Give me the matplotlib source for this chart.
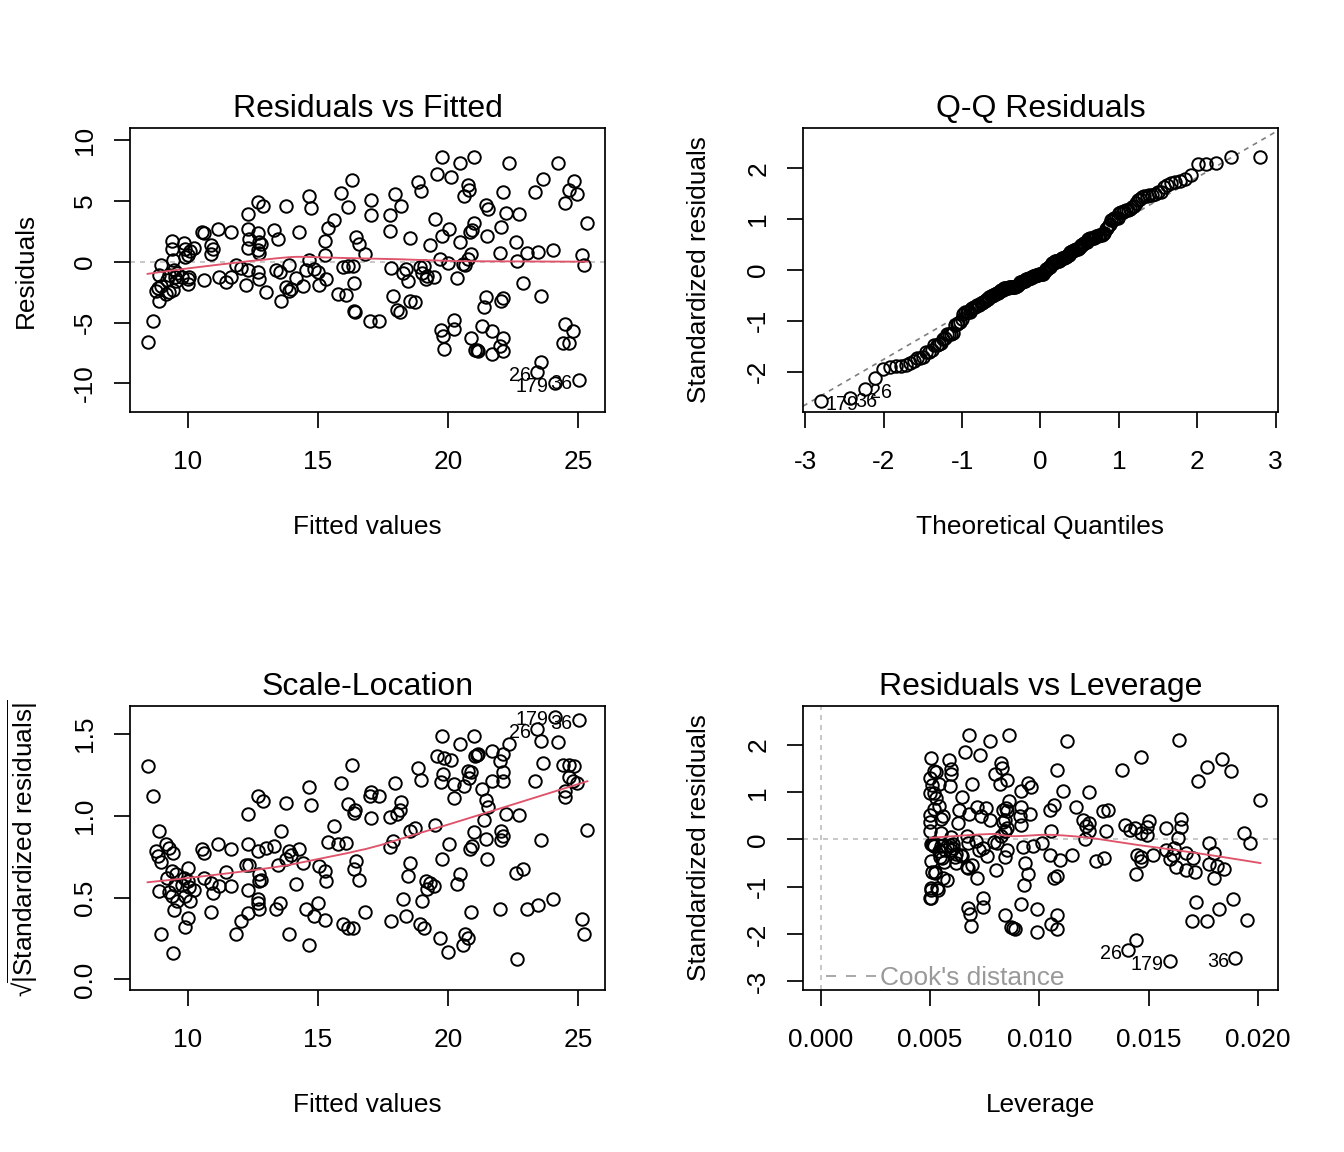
import numpy as np
import matplotlib
matplotlib.use('Agg')
from matplotlib import pyplot as plt
from matplotlib.lines import Line2D
from statistics import NormalDist

# fitted values and residuals of the lm fit
# (observation order matters only for the id labels: 26, 36 and 179)
fitted = np.array([
    8.46, 8.65, 8.91, 8.77, 8.87, 8.97, 9.17, 9.30, 9.45, 8.91,
    8.97, 9.42, 9.38, 9.38, 9.49, 9.50, 9.55, 9.87, 9.90, 9.90,
    10.00, 10.26, 9.80, 10.00, 10.06, 23.44, 10.00, 10.62, 10.55, 10.64,
    10.90, 10.96, 10.90, 11.15, 11.67, 25.03, 11.22, 11.47, 11.67, 11.86,
    12.30, 12.25, 12.33, 12.33, 12.33, 12.05, 9.30, 9.60, 9.20, 10.10,
    19.00, 12.69, 12.88, 12.69, 12.76, 12.82, 12.69, 12.76, 12.37, 12.69,
    12.76, 13.01, 13.78, 13.31, 13.46, 14.29, 13.40, 13.53, 13.91, 14.17,
    13.78, 13.91, 13.97, 13.59, 14.42, 14.68, 14.74, 14.68, 14.55, 14.87,
    15.00, 15.06, 15.32, 15.26, 15.28, 15.38, 15.62, 15.90, 16.30, 16.15,
    15.77, 16.09, 15.96, 16.15, 16.35, 16.38, 16.38, 16.44, 16.47, 16.60,
    16.82, 17.05, 17.05, 16.99, 17.37, 17.95, 18.20, 17.76, 17.76, 18.53,
    17.82, 18.27, 18.46, 18.40, 17.88, 18.05, 18.14, 18.53, 18.74, 18.85,
    18.97, 18.91, 19.10, 19.17, 19.20, 19.46, 19.33, 19.49, 19.77, 19.59,
    20.13, 20.45, 21.00, 20.77, 20.80, 20.62, 19.77, 20.06, 20.45, 19.68,
    20.00, 20.36, 20.58, 20.66, 20.90, 20.77, 20.83, 21.00, 20.93, 21.47,
    21.54, 21.51, 19.72, 19.81, 19.85, 20.23, 20.23, 20.90, 21.05, 21.15,
    21.10, 21.31, 21.69, 21.47, 21.38, 21.69, 22.33, 24.23, 23.65, 23.33,
    24.85, 24.64, 24.97, 24.51, 25.36, 22.12, 22.24, 22.75, 24.10, 22.05,
    22.63, 21.99, 23.05, 23.46, 24.04, 22.67, 25.15, 25.23, 22.88, 23.56,
    22.12, 22.05, 22.12, 21.99, 22.12, 24.49, 24.81, 24.42, 24.64, 23.56,
])
resid = np.array([
    -6.60, -4.87, -3.20, -2.40, -2.20, -2.00, -2.66, -2.50, -2.30, -1.13,
    -0.30, 0.10, 1.00, 1.70, -0.70, -1.30, -1.60, 1.50, 1.00, 0.40,
    0.55, 1.16, -1.30, -1.40, -1.25, -9.07, -1.80, -1.49, 2.46, 2.32,
    1.35, 1.08, 0.66, 2.65, 2.46, -9.70, -1.27, -1.69, -1.27, -0.30,
    -0.65, -1.90, 3.95, 2.66, 1.16, -0.50, -1.10, -0.90, -1.50, 0.90,
    -0.90, 4.90, 4.60, 2.38, 1.63, 1.44, 0.94, 0.72, 1.90, -0.86,
    -1.41, -2.52, 4.54, 2.60, 1.90, 2.46, -0.72, -0.86, -0.30, -1.33,
    -2.10, -2.38, -2.24, -3.20, -1.96, 5.37, 4.40, 0.17, -0.72, -0.58,
    -0.86, -1.88, -1.41, 0.52, 1.72, 2.74, 3.43, 5.64, 6.70, 4.46,
    -2.66, -2.71, -0.44, -0.39, -0.39, -1.77, -4.04, -4.17, 2.05, 1.44,
    0.66, 5.09, 3.80, -4.87, -4.87, 5.59, 4.59, 3.84, 2.55, 1.97,
    -0.50, -0.94, -1.55, -0.58, -2.80, -3.98, -4.17, -3.20, -3.35, 6.53,
    5.78, -0.44, -0.39, -1.41, -1.20, -1.27, 1.35, 3.49, 8.63, 7.24,
    6.97, 8.07, 8.63, 6.33, 5.92, 5.42, 2.10, 2.66, 1.63, 0.25,
    -0.11, -1.33, -0.17, -0.30, 0.66, 0.25, 2.46, 3.15, 2.60, 4.67,
    4.32, 2.10, -5.64, -6.12, -7.14, -4.81, -5.56, -6.25, -7.22, -7.36,
    -7.30, -5.28, -5.70, -2.88, -3.71, -7.58, 8.07, 8.13, 6.80, 5.70,
    6.60, 5.92, 5.59, 4.81, 3.21, 5.70, 3.98, 3.93, -10.00, 2.82,
    1.63, 0.72, 0.72, 0.80, 0.94, 0.06, 0.52, -0.30, -1.77, -2.80,
    -2.99, -3.20, -6.25, -6.95, -7.36, -5.15, -5.70, -6.67, -6.67, -8.24,
])

RED = '#DF536B'
FS = 18.9
plt.rcParams['font.family'] = ['Liberation Sans', 'DejaVu Sans']
plt.rcParams['axes.unicode_minus'] = False
plt.rcParams['mathtext.fontset'] = 'custom'
plt.rcParams['mathtext.rm'] = 'Liberation Sans'
plt.rcParams['mathtext.it'] = 'Liberation Sans:italic'


def lowess(x, y, f=2 / 3, iters=3):
    # same scheme as R's lowess (no delta shortcut)
    o = np.argsort(x, kind='stable')
    x = np.asarray(x, float)[o]
    y = np.asarray(y, float)[o]
    n = len(x)
    ns = max(min(int(f * n + 1e-7), n), 2)
    rw = np.ones(n)
    fit = np.zeros(n)
    for it in range(iters + 1):
        for i in range(n):
            d = np.abs(x - x[i])
            h = np.sort(d)[ns - 1]
            u = d / h
            w = np.where(u < 1, (1 - u ** 3) ** 3, 0.0) * rw
            sw = w.sum()
            xm = (w * x).sum() / sw
            ym = (w * y).sum() / sw
            sxx = (w * (x - xm) ** 2).sum()
            b = (w * (x - xm) * (y - ym)).sum() / sxx if sxx > 1e-12 else 0.0
            fit[i] = ym + b * (x[i] - xm)
        if it < iters:
            res = y - fit
            cm = 6 * np.median(np.abs(res))
            u = res / cm
            rw = np.where(np.abs(u) < 1, (1 - u ** 2) ** 2, 0.0)
    return x, fit


def extend(lo, hi, f):
    d = hi - lo
    return lo - f * d, hi + f * d


# derived diagnostics (simple regression: hat values from the fitted values)
n = len(fitted)
dev = fitted - fitted.mean()
lev = 1 / n + dev ** 2 / (dev ** 2).sum()
sigma = np.sqrt((resid ** 2).sum() / (n - 2))
std_resid = resid / (sigma * np.sqrt(1 - lev))
sqrt_abs = np.sqrt(np.abs(std_resid))
theo = np.array([NormalDist().inv_cdf((i - 0.5) / n) for i in range(1, n + 1)])
qq_x = np.empty(n)
qq_x[np.argsort(std_resid, kind='stable')] = theo


def style(ax, xticks, yticks, xfmt, yfmt, xlabel, ylabel, title, ylabelpad=25.2):
    ax.set_xticks(xticks)
    ax.set_xticklabels([xfmt.format(v) for v in xticks])
    ax.set_yticks(yticks)
    ax.set_yticklabels([yfmt.format(v) for v in yticks], rotation=90, va='center')
    ax.tick_params(axis='both', direction='out', length=11.5, width=1.25, labelsize=FS, color='black')
    ax.tick_params(axis='x', pad=16.1)
    ax.tick_params(axis='y', pad=12.1)
    for s in ax.spines.values():
        s.set_linewidth(1.25)
    ax.set_xlabel(xlabel, fontsize=FS, labelpad=29.1)
    ax.set_ylabel(ylabel, fontsize=FS, labelpad=ylabelpad)
    ax.set_title(title, fontsize=23, pad=7.6)


def pts(ax, x, y):
    ax.plot(x, y, 'o', ms=9.0, mfc='none', mec='black', mew=1.4, ls='none')


def ids(ax, x, y, idx, side):
    for i in idx:
        dx = -4.5 if side == 'left' else 3.5
        ax.annotate(str(i + 1), (x[i], y[i]), xytext=(dx, -2.5), textcoords='offset points',
                    ha='right' if side == 'left' else 'left', va='center', fontsize=14.2)


W, H = 1344, 1152
fig = plt.figure(figsize=(W / 100, H / 100), dpi=100)


def add(left, top):
    return fig.add_axes([left / W, (H - top - 284) / H, 475 / W, 284 / H])


# Residuals vs Fitted
ax = add(130, 128)
ax.axhline(0, color='#BEBEBE', lw=1.2, ls=(0, (3, 3)))
pts(ax, fitted, resid)
sx, sy = lowess(fitted, resid)
ax.plot(sx, sy, color=RED, lw=1.35)
ids(ax, fitted, resid, np.argsort(-np.abs(resid))[:3], 'left')
ax.set_xlim(*extend(fitted.min(), fitted.max(), 0.04))
ax.set_ylim(*extend(*extend(resid.min(), resid.max(), 0.08), 0.04))
style(ax, [10, 15, 20, 25], [-10, -5, 0, 5, 10], '{:d}', '{:d}',
      'Fitted values', 'Residuals', 'Residuals vs Fitted')

# Q-Q Residuals
ax = add(803, 128)
q1, q3 = np.quantile(std_resid, [0.25, 0.75])
t1, t3 = NormalDist().inv_cdf(0.25), NormalDist().inv_cdf(0.75)
slope = (q3 - q1) / (t3 - t1)
ax.axline((t1, q1), slope=slope, color='#7F7F7F', lw=1.2, ls=(0, (3, 3)))
pts(ax, qq_x, std_resid)
ids(ax, qq_x, std_resid, np.argsort(-np.abs(std_resid))[:3], 'right')
ax.set_xlim(*extend(qq_x.min(), qq_x.max(), 0.04))
ylo, yhi = std_resid.min(), std_resid.max()
ax.set_ylim(*extend(ylo, yhi + 0.075 * (yhi - ylo), 0.04))
style(ax, [-3, -2, -1, 0, 1, 2, 3], [-2, -1, 0, 1, 2], '{:d}', '{:d}',
      'Theoretical Quantiles', 'Standardized residuals', 'Q-Q Residuals')

# Scale-Location
ax = add(130, 706)
pts(ax, fitted, sqrt_abs)
sx, sy = lowess(fitted, sqrt_abs)
ax.plot(sx, sy, color=RED, lw=1.35)
ids(ax, fitted, sqrt_abs, np.argsort(-np.abs(std_resid))[:3], 'left')
ax.set_xlim(*extend(fitted.min(), fitted.max(), 0.04))
ax.set_ylim(*extend(0, sqrt_abs.max(), 0.04))
style(ax, [10, 15, 20, 25], [0.0, 0.5, 1.0, 1.5], '{:d}', '{:.1f}',
      'Fitted values', '\u221a' + r'$\overline{|\mathrm{Standardized\ residuals}|}$', 'Scale-Location',
      ylabelpad=24)

# Residuals vs Leverage
ax = add(803, 706)
ax.axhline(0, color='#BEBEBE', lw=1.2, ls=(0, (3, 3)))
ax.axvline(0, color='#BEBEBE', lw=1.2, ls=(0, (3, 3)))
pts(ax, lev, std_resid)
sx, sy = lowess(lev, std_resid)
ax.plot(sx, sy, color=RED, lw=1.35)
ids(ax, lev, std_resid, np.argsort(-np.abs(std_resid))[:3], 'left')
ax.set_xlim(*extend(0, lev.max(), 0.04))
ax.set_ylim(*extend(*extend(std_resid.min(), std_resid.max(), 0.08), 0.04))
style(ax, [0.0, 0.005, 0.010, 0.015, 0.020], [-3, -2, -1, 0, 1, 2], '{:.3f}', '{:d}',
      'Leverage', 'Standardized residuals', 'Residuals vs Leverage')
ax.legend([Line2D([], [], color='#999999', lw=1.2, ls=(0, (6, 6)))], ["Cook's distance"],
          loc='lower left', bbox_to_anchor=(0.048, 0.0), borderaxespad=0, borderpad=0,
          frameon=False, fontsize=FS, labelcolor='#999999', handlelength=1.9, handletextpad=0.15)

fig.savefig('out.png', dpi=100)
